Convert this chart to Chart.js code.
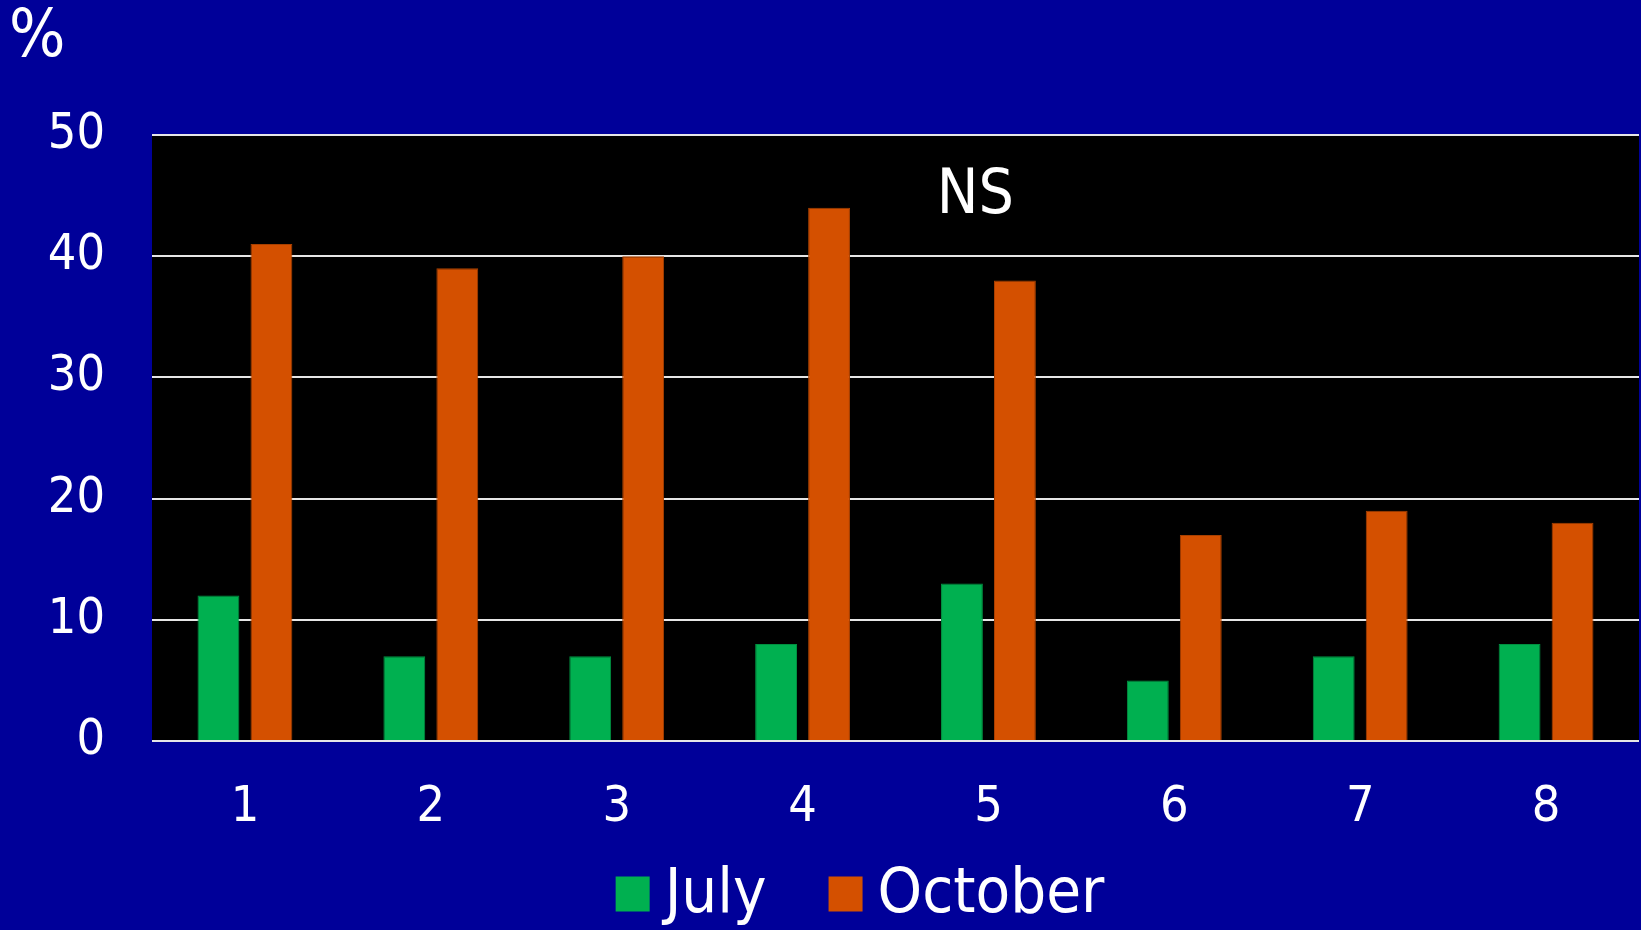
<!DOCTYPE html>
<html>
<head>
<meta charset="utf-8">
<script src="https://cdn.jsdelivr.net/npm/chart.js@4"></script>
<style>
  html, body { margin: 0; padding: 0; background: #000099; }
  #wrap { width: 1641px; height: 930px; }
</style>
</head>
<body>
<div id="wrap"><canvas id="barChart" width="1641" height="930"></canvas></div>
<script>
const categories = ['1', '2', '3', '4', '5', '6', '7', '8'];
const julyValues = [12, 7, 7, 8, 13, 5, 7, 8];
const octoberValues = [41, 39, 40, 44, 38, 17, 19, 18];
const yTicks = [0, 10, 20, 30, 40, 50];

const FONT = '"DejaVu Sans Condensed", "DejaVu Sans", sans-serif';

// black plot area, "%" / "NS" labels and the legend row
const decorations = {
  id: 'decorations',
  beforeDraw(chart) {
    const { ctx, chartArea } = chart;
    ctx.save();
    ctx.fillStyle = '#000000';
    ctx.fillRect(chartArea.left, chartArea.top, chartArea.right - chartArea.left, chartArea.bottom - chartArea.top);
    ctx.restore();
  },
  afterDraw(chart) {
    const { ctx, scales } = chart;
    ctx.save();
    ctx.fillStyle = '#ffffff';
    ctx.font = '66px ' + FONT;
    ctx.textBaseline = 'alphabetic';
    ctx.textAlign = 'left';
    ctx.fillText('%', 9, 56);
    ctx.font = '62px ' + FONT;
    ctx.textAlign = 'center';
    ctx.textBaseline = 'middle';
    ctx.fillText('NS', scales.x.getPixelForValue(4) - 13, scales.y.getPixelForValue(44.9));

    // legend
    const boxW = 34, boxH = 35, textGap = 15, itemGap = 62, midY = 894, centerX = 860;
    ctx.font = '63px ' + FONT;
    ctx.textAlign = 'left';
    const items = chart.data.datasets.map(ds => ({
      text: ds.label, color: ds.backgroundColor, w: boxW + textGap + ctx.measureText(ds.label).width
    }));
    const total = items.reduce((s, it) => s + it.w, 0) + itemGap * (items.length - 1);
    let x = centerX - total / 2;
    items.forEach(it => {
      ctx.fillStyle = it.color;
      ctx.fillRect(x, midY - boxH / 2, boxW, boxH);
      ctx.fillStyle = '#ffffff';
      ctx.fillText(it.text, x + boxW + textGap, midY + 2);
      x += it.w + itemGap;
    });
    ctx.restore();
  }
};

document.addEventListener('DOMContentLoaded', function () {
  const ctx = document.getElementById('barChart').getContext('2d');
  new Chart(ctx, {
    type: 'bar',
    data: {
      labels: categories,
      datasets: [
        {
          label: 'July',
          data: julyValues,
          backgroundColor: '#00b050',
          borderColor: '#009040',
          borderWidth: 1,
          categoryPercentage: 0.57,
          barPercentage: 0.79
        },
        {
          label: 'October',
          data: octoberValues,
          backgroundColor: '#d45000',
          borderColor: '#a84000',
          borderWidth: 1,
          categoryPercentage: 0.57,
          barPercentage: 0.79
        }
      ]
    },
    options: {
      responsive: false,
      animation: false,
      layout: { padding: { top: 135, right: 2, left: 0, bottom: 89 } },
      plugins: {
        tooltip: { enabled: false },
        legend: { display: false }
      },
      scales: {
        x: {
          grid: { display: false },
          border: { display: false },
          ticks: { color: '#ffffff', font: { family: FONT, size: 50 }, padding: 29 },
          afterFit(scale) { scale.height = 100; }
        },
        y: {
          min: 0,
          max: 50,
          afterBuildTicks(scale) { scale.ticks = yTicks.map(v => ({ value: v })); },
          grid: { color: '#e6e6e6', lineWidth: 2, drawTicks: false },
          border: { display: false },
          ticks: { color: '#ffffff', font: { family: FONT, size: 50 }, padding: 47 },
          afterFit(scale) { scale.width = 152; }
        }
      }
    },
    plugins: [decorations]
  });
});
</script>
</body>
</html>
